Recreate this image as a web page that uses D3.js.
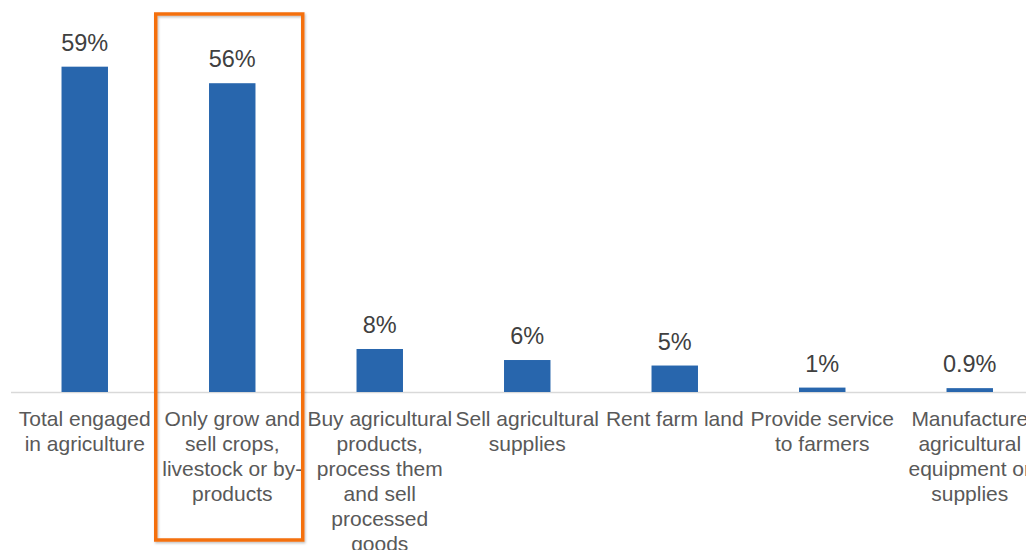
<!DOCTYPE html>
<html><head><meta charset="utf-8">
<script src="https://cdn.jsdelivr.net/npm/d3@7"></script>
<style>html,body{margin:0;padding:0;background:#fff;overflow:hidden}</style>
</head><body>
<svg id="c" width="1026" height="550"></svg>
<script>
const categories = [
  "Total engaged in agriculture",
  "Only grow and sell crops, livestock or by-products",
  "Buy agricultural products, process them and sell processed goods",
  "Sell agricultural supplies",
  "Rent farm land",
  "Provide service to farmers",
  "Manufacture agricultural equipment or supplies"
];
const values = [59, 56, 7.8, 5.8, 4.8, 0.8, 0.7];
const valueLabels = ["59%", "56%", "8%", "6%", "5%", "1%", "0.9%"];
const highlighted = ["Only grow and sell crops, livestock or by-products"];

const svg = d3.select("#c");
const baseY = 392;
const x = d3.scaleBand().domain(categories).range([11, 11 + 147.5 * 7])
  .paddingInner(0.685).paddingOuter(0.3425);
const y = d3.scaleLinear().domain([0, 60]).range([baseY, baseY - 60 * 5.514]);

// axis line
svg.append("line").attr("x1", 11).attr("x2", 1026).attr("y1", baseY + 0.5).attr("y2", baseY + 0.5)
  .attr("stroke", "#d9d9d9").attr("stroke-width", 1.5);

svg.selectAll("rect.bar").data(values).enter().append("rect").attr("class", "bar")
  .attr("x", (d, i) => x(categories[i]))
  .attr("width", x.bandwidth())
  .attr("y", d => y(d))
  .attr("height", d => baseY - y(d))
  .attr("fill", "#2866AD");

svg.selectAll("text.val").data(values).enter().append("text").attr("class", "val")
  .attr("x", (d, i) => x(categories[i]) + x.bandwidth() / 2)
  .attr("y", d => y(d) - 16)
  .attr("text-anchor", "middle")
  .attr("font-family", "Liberation Sans, Arial, sans-serif")
  .attr("font-size", 23.5)
  .attr("fill", "#404040")
  .text((d, i) => valueLabels[i]);

// wrap labels
const measurer = svg.append("text").attr("font-family", "Liberation Sans, Arial, sans-serif").attr("font-size", 21);
function tw(s) { measurer.text(s); return measurer.node().getComputedTextLength(); }
function wrap(label, maxW) {
  // tokens: split at spaces and after hyphens
  const tokens = [];
  label.split(" ").forEach((w, wi) => {
    const parts = w.split(/(?<=-)/);
    parts.forEach((p, pi) => tokens.push({ t: p, sp: pi === 0 && wi > 0 }));
  });
  const lines = [];
  let cur = "";
  tokens.forEach(tok => {
    const cand = cur === "" ? tok.t : cur + (tok.sp ? " " : "") + tok.t;
    if (cur !== "" && tw(cand) > maxW) { lines.push(cur); cur = tok.t; }
    else cur = cand;
  });
  if (cur) lines.push(cur);
  return lines;
}
const step = x.step();
categories.forEach((c, i) => {
  const lines = wrap(c, step + 1);
  const t = svg.append("text")
    .attr("text-anchor", "middle")
    .attr("font-family", "Liberation Sans, Arial, sans-serif")
    .attr("font-size", 21)
    .attr("fill", "#595959");
  lines.forEach((l, j) => {
    t.append("tspan").attr("x", x(c) + x.bandwidth() / 2).attr("y", baseY + 34 + j * 25).text(l);
  });
});
measurer.remove();

// highlight box
const defs = svg.append("defs");
const f = defs.append("filter").attr("id", "sh").attr("x", "-10%").attr("y", "-10%").attr("width", "130%").attr("height", "130%");
f.append("feDropShadow").attr("dx", 1).attr("dy", 1.5).attr("stdDeviation", 1.2).attr("flood-color", "#000").attr("flood-opacity", 0.25);
highlighted.forEach(h => {
  const cx = x(h) + x.bandwidth() / 2;
  svg.append("rect")
    .attr("x", cx - 76.5).attr("y", 14)
    .attr("width", 147).attr("height", 526)
    .attr("fill", "none").attr("stroke", "#F4700F").attr("stroke-width", 3.5)
    .attr("filter", "url(#sh)");
});
</script>
</body></html>
